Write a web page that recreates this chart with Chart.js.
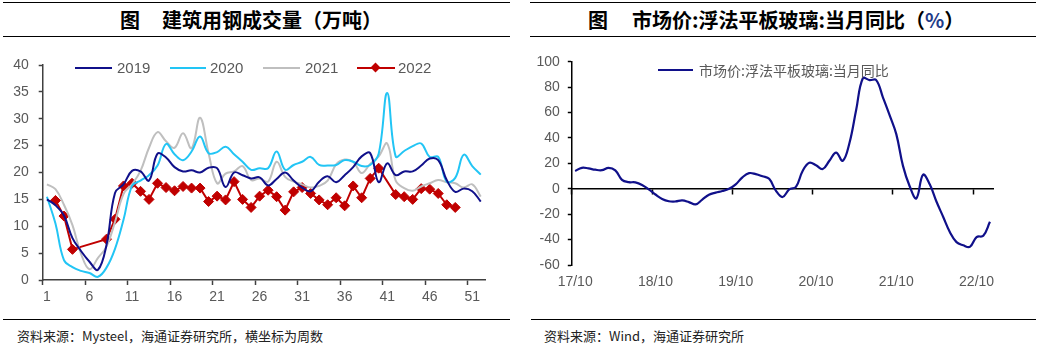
<!DOCTYPE html>
<html><head><meta charset="utf-8">
<script src="https://cdn.jsdelivr.net/npm/chart.js@4.4.0/dist/chart.umd.min.js"></script>
<style>
body{margin:0;width:1056px;height:357px;background:#fff;position:relative;overflow:hidden;font-family:"Liberation Sans",Arial,sans-serif;}
.hl{position:absolute;height:0;border-top:1.5px solid #000;}
.tt{position:absolute;top:8px;font-family:"Noto Sans CJK SC",sans-serif;font-weight:bold;font-size:20px;line-height:24px;color:#000;white-space:nowrap;}
.ft{position:absolute;top:328px;font-family:"Noto Sans CJK SC",sans-serif;font-size:13px;line-height:16px;color:#222;white-space:nowrap;}
.lg{position:absolute;height:2px;}
.lt{position:absolute;font-size:15px;line-height:18px;color:#595959;white-space:nowrap;}
.dm{position:absolute;width:7px;height:7px;background:#c00000;transform:rotate(45deg);}
canvas{position:absolute;}
</style></head>
<body>
<div class="hl" style="left:3px;width:507px;top:2px"></div>
<div class="hl" style="left:3px;width:507px;top:36px"></div>
<div class="tt" style="left:120px">图</div>
<div class="tt" style="left:162px">建筑用钢成交量（万吨）</div>
<div class="hl" style="left:530px;width:506px;top:2px"></div>
<div class="hl" style="left:530px;width:506px;top:36px"></div>
<div class="tt" style="left:588px">图</div>
<div class="tt" style="left:632px">市场价:浮法平板玻璃:当月同比（<span style="color:#1f3c88">%</span>）</div>

<canvas id="c1" width="500" height="310" style="left:0;top:0"></canvas>
<canvas id="c2" width="500" height="310" style="left:528px;top:0"></canvas>

<div class="lg" style="left:75px;top:67px;width:37px;background:#10108a"></div>
<div class="lt" style="left:117px;top:59px">2019</div>
<div class="lg" style="left:170px;top:67px;width:36px;background:#22c5f5"></div>
<div class="lt" style="left:210px;top:59px">2020</div>
<div class="lg" style="left:263px;top:67px;width:37px;background:#bfbfbf"></div>
<div class="lt" style="left:305px;top:59px">2021</div>
<div class="lg" style="left:357px;top:67px;width:38px;background:#c00000"></div>
<div class="dm" style="left:372px;top:64px"></div>
<div class="lt" style="left:398px;top:59px">2022</div>

<div class="lg" style="left:658px;top:69px;width:35px;background:#10108a"></div>
<div class="lt" style="left:699px;top:61px;font-family:'Noto Sans CJK SC',sans-serif;font-size:14px">市场价:浮法平板玻璃:当月同比</div>

<div class="hl" style="left:3px;width:507px;top:319px"></div>
<div class="hl" style="left:531px;width:505px;top:319px"></div>
<div class="ft" style="left:17px">资料来源：Mysteel，海通证券研究所，横坐标为周数</div>
<div class="ft" style="left:544px">资料来源：Wind，海通证券研究所</div>

<script>
const weeks = ['1','2','3','4','5','6','7','8','9','10','11','12','13','14','15','16','17','18','19','20','21','22','23','24','25','26','27','28','29','30','31','32','33','34','35','36','37','38','39','40','41','42','43','44','45','46','47','48','49','50','51','52'];
const s2019 = [15.0,13.9,12.0,7.8,5.4,3.4,1.9,6.5,16.2,17.8,20.3,20.2,18.5,23.5,22.8,21.0,20.2,20.4,20.0,20.9,20.8,17.3,20.0,19.5,18.9,19.1,17.6,18.8,20.0,18.5,17.2,16.5,18.3,19.3,18.2,19.5,21.0,23.0,23.6,18.2,21.7,19.5,20.2,20.2,21.3,22.6,22.3,18.6,16.4,17.0,16.5,14.6];
const s2020 = [15.5,10.5,3.7,2.4,1.7,1.3,0.6,2.3,5.8,11.2,17.5,18.5,19.5,21.3,25.3,23.4,22.3,23.9,26.7,23.6,23.8,24.8,23.4,22.0,20.5,20.8,20.8,23.9,20.5,21.4,22.0,22.9,21.4,21.3,21.4,22.3,22.0,21.2,21.4,23.5,34.8,23.0,24.0,24.9,25.4,22.9,22.9,18.3,19.0,23.3,21.2,19.6];
const s2021 = [17.8,16.9,14.0,10.2,4.9,2.0,4.1,6.2,10.8,16.0,17.8,20.3,24.6,27.5,25.8,24.6,27.3,24.5,30.2,23.6,18.0,19.8,20.2,21.2,18.6,18.9,18.3,22.0,19.2,18.3,17.8,17.2,17.5,18.5,21.5,22.4,22.0,19.9,21.6,23.0,25.4,18.5,17.1,16.6,17.4,18.0,18.6,18.2,18.0,17.2,17.8,15.5];
const s2022 = [null,14.8,11.9,5.7,null,null,null,7.6,11.3,17.5,18.0,16.5,15.0,18.0,17.2,16.6,17.4,17.1,17.1,14.6,15.6,14.9,18.3,15.0,13.5,15.6,16.7,15.5,13.0,16.4,17.2,16.1,14.9,14.0,15.3,13.8,17.5,15.3,18.9,20.8,null,15.9,15.5,15.0,17.0,16.9,16.1,14.0,13.5,null,null,null];

const months = ['17/10','17/11','17/12','18/01','18/02','18/03','18/04','18/05','18/06','18/07','18/08','18/09','18/10','18/11','18/12','19/01','19/02','19/03','19/04','19/05','19/06','19/07','19/08','19/09','19/10','19/11','19/12','20/01','20/02','20/03','20/04','20/05','20/06','20/07','20/08','20/09','20/10','20/11','20/12','21/01','21/02','21/03','21/04','21/05','21/06','21/07','21/08','21/09','21/10','21/11','21/12','22/01','22/02','22/03','22/04','22/05','22/06','22/07','22/08','22/09','22/10','22/11','22/12'];
const glassYoY = [14,16.5,16,15,14.6,16.5,14.5,7,5.2,5,3,-0.5,-4.5,-8,-9.8,-10,-9.2,-10.5,-12.3,-8.5,-4.7,-3,-1.8,0,3.5,9,12.3,11.5,9.8,7.8,-1.5,-6.5,-0.5,1.5,14,20.5,18.5,15.5,22,28.5,22,36,62,87,85.5,85.5,72,58,43,18,2,-7.5,11,3.5,-10,-22,-34,-42,-44.5,-45.7,-38,-37,-26];

Chart.defaults.font.family = '"Liberation Sans", Arial, sans-serif';
Chart.defaults.font.size = 14;
const TICK = '#595959';
const CLEAR = 'rgba(0,0,0,0)';

new Chart(document.getElementById('c1'), {
  type: 'line',
  data: { labels: weeks, datasets: [
    {label:'2019', data:s2019, borderColor:'#10108a', borderWidth:2, pointRadius:0, tension:0.4},
    {label:'2020', data:s2020, borderColor:'#22c5f5', borderWidth:2, pointRadius:0, tension:0.4},
    {label:'2021', data:s2021, borderColor:'#bfbfbf', borderWidth:2, pointRadius:0, tension:0.4},
    {label:'2022', data:s2022, borderColor:'#c00000', backgroundColor:'#c00000', borderWidth:2, pointStyle:'rectRot', pointRadius:5, pointBorderWidth:1, tension:0, spanGaps:true}
  ]},
  options: {
    responsive:false, animation:false, devicePixelRatio:1,
    layout:{padding:{left:0,right:15,top:65,bottom:0}},
    plugins:{legend:{display:false}, tooltip:{enabled:false}},
    scales:{
      x:{ offset:true,
        grid:{offset:true, drawOnChartArea:false, tickLength:5, tickWidth:1.5, tickColor:c => (c.index % 5 === 0 ? '#404040' : CLEAR)},
        border:{color:'#404040', width:1.5},
        ticks:{autoSkip:false, maxRotation:0, minRotation:0, padding:4, color:TICK, callback:(v,i) => (i % 5 === 0 ? weeks[i] : '')},
        afterFit: s => { s.height = 30; } },
      y:{ min:0, max:40,
        ticks:{stepSize:5, color:TICK, padding:10},
        grid:{drawOnChartArea:false, tickLength:4, tickWidth:1.5, tickColor:'#404040'},
        border:{color:'#404040', width:1.5},
        afterFit: s => { s.width = 42.7; } }
    }
  }
});

new Chart(document.getElementById('c2'), {
  type: 'line',
  data: { labels: months, datasets: [
    {label:'市场价:浮法平板玻璃:当月同比', data:glassYoY, borderColor:'#10108a', borderWidth:2.2, pointRadius:0, tension:0.4}
  ]},
  options: {
    responsive:false, animation:false, devicePixelRatio:1,
    layout:{padding:{left:0,right:34.7,top:61.7,bottom:0}},
    plugins:{legend:{display:false}, tooltip:{enabled:false}},
    scales:{
      x:{ position:{y:0}, offset:true,
        grid:{offset:true, drawOnChartArea:false, tickLength:5, tickWidth:1.5, tickColor:c => (c.index % 12 === 0 ? '#000' : CLEAR)},
        border:{color:'#000', width:1.5},
        ticks:{display:false} },
      x2:{ position:'bottom', offset:true,
        grid:{display:false, drawTicks:false, offset:true},
        border:{display:false},
        ticks:{autoSkip:false, maxRotation:0, minRotation:0, padding:9, color:TICK, callback:(v,i) => (months[i].endsWith('/10') ? months[i] : '')},
        afterFit: s => { s.height = 45; } },
      y:{ min:-60, max:100,
        ticks:{stepSize:20, color:TICK, padding:8},
        grid:{drawOnChartArea:false, tickLength:4, tickWidth:1.5, tickColor:'#000'},
        border:{color:'#000', width:1.5},
        afterFit: s => { s.width = 43.8; } }
    }
  }
});
</script>
</body></html>
